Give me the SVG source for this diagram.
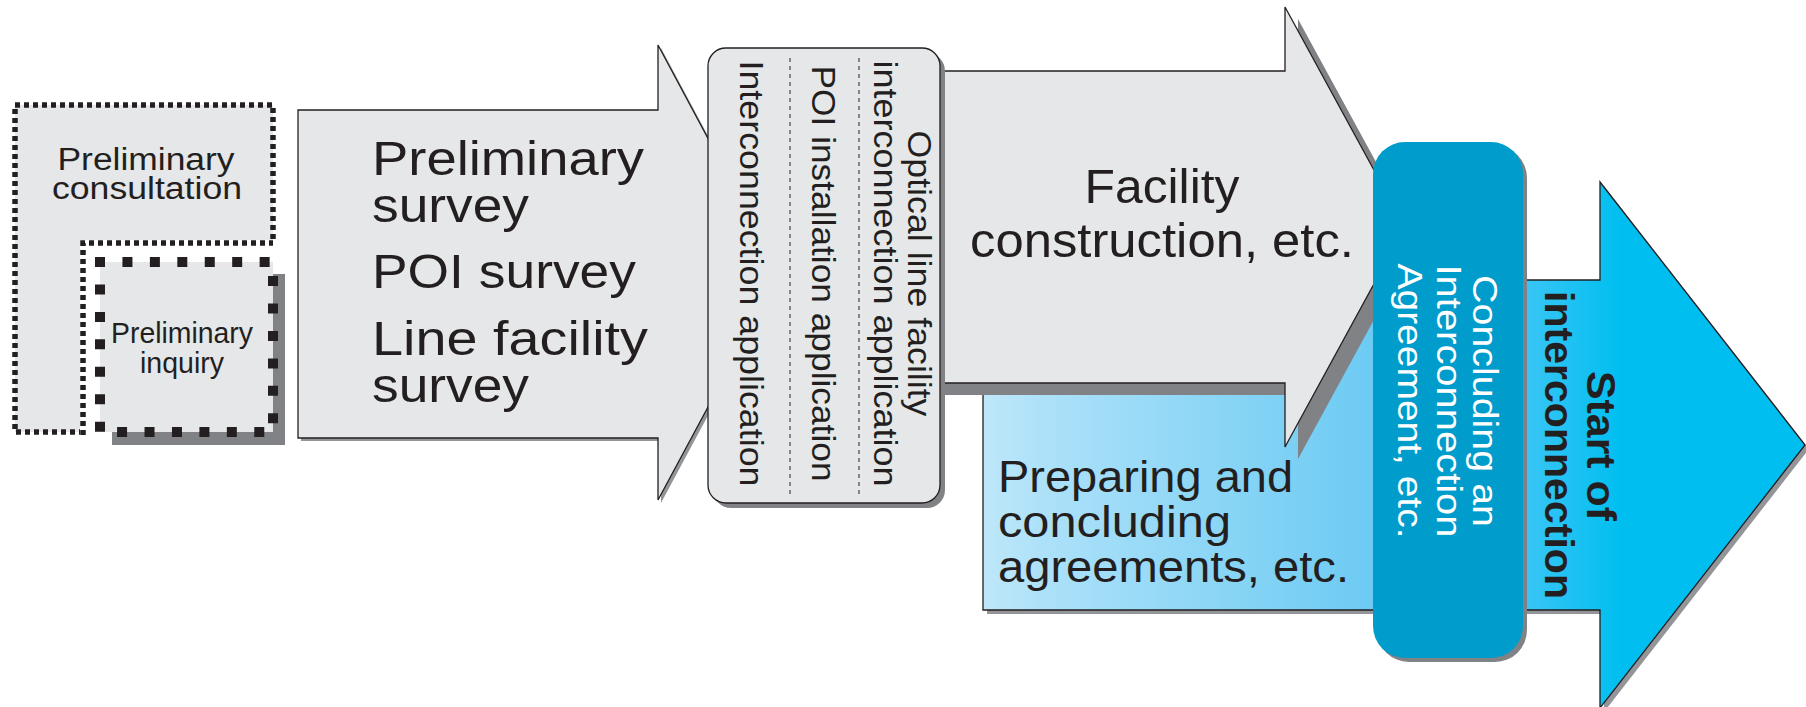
<svg xmlns="http://www.w3.org/2000/svg" xmlns:xlink="http://www.w3.org/1999/xlink" width="1806" height="707" viewBox="0 0 1806 707">
<style>
.t{font-family:"Liberation Sans",Arial,sans-serif;fill:#231f20}
.w{fill:#ffffff}
.b{font-weight:bold}
.sh{fill:#808285;stroke:none}
.shl{fill:#939598;stroke:none}
.gr{fill:#e6e7e8;stroke:#231f20;stroke-width:1.3}
.fine{stroke:#231f20;stroke-width:5.5;stroke-dasharray:5 4;fill:none}
.dl{stroke:#231f20;stroke-width:1;stroke-dasharray:4 4;fill:none}
</style>
<defs>
<linearGradient id="blueGrad" gradientUnits="userSpaceOnUse" x1="983" y1="0" x2="1620" y2="0">
<stop offset="0" stop-color="#bfe7f9"/>
<stop offset="0.1" stop-color="#ace1f9"/>
<stop offset="0.6" stop-color="#6ecbf3"/>
<stop offset="0.85" stop-color="#3ac5f5"/>
<stop offset="1" stop-color="#00bff0"/>
</linearGradient>
<path id="arrow1" d="M298,110 H658 V45 L780,273 L658,500 V438 H298 Z"/>
<path id="arrowFac" d="M925,71 H1285 V7 L1405,227 L1285,447 V383 H925 Z"/>
<path id="arrowStart" d="M983,280 H1600 V182 L1805,445 L1600,708 V610 H983 Z"/>
<rect id="appBox" x="708" y="48" width="232" height="455" rx="18"/>
<rect id="darkBox" x="1373" y="142" width="150" height="516" rx="32"/>
</defs>
<rect width="1806" height="707" fill="#ffffff"/>

<g id="preliminary-consultation">
<rect x="15" y="105" width="258" height="327" fill="#e6e7e8"/>
<rect x="15" y="105" width="258" height="327" class="fine"/>
<rect x="80" y="240" width="200" height="200" fill="#ffffff"/>
<path d="M83,435 V243 H273" class="fine"/>
<text class="t" font-size="31" text-anchor="middle"><tspan x="146" y="170" textLength="177" lengthAdjust="spacingAndGlyphs">Preliminary</tspan><tspan x="147" y="199" textLength="190" lengthAdjust="spacingAndGlyphs">consultation</tspan></text>
</g>

<g id="preliminary-inquiry">
<rect x="112" y="274" width="173" height="171" class="sh"/>
<rect x="100" y="262" width="173" height="170" fill="#e6e7e8"/>
<rect x="100" y="262" width="173" height="170" fill="none" stroke="#231f20" stroke-width="10" stroke-dasharray="10 17.44" stroke-dashoffset="5"/>
<text class="t" font-size="30" text-anchor="middle"><tspan x="182" y="343" textLength="142" lengthAdjust="spacingAndGlyphs">Preliminary</tspan><tspan x="182" y="373" textLength="84" lengthAdjust="spacingAndGlyphs">inquiry</tspan></text>
</g>

<g id="survey-arrow">
<use xlink:href="#arrow1" class="shl" transform="translate(3,3)"/>
<use xlink:href="#arrow1" class="gr"/>
<text class="t" font-size="49"><tspan x="372" y="175" textLength="272" lengthAdjust="spacingAndGlyphs">Preliminary</tspan><tspan x="372" y="222" textLength="157" lengthAdjust="spacingAndGlyphs">survey</tspan><tspan x="372" y="288" textLength="264" lengthAdjust="spacingAndGlyphs">POI survey</tspan><tspan x="372" y="355" textLength="276" lengthAdjust="spacingAndGlyphs">Line facility</tspan><tspan x="372" y="402" textLength="157" lengthAdjust="spacingAndGlyphs">survey</tspan></text>
</g>

<g id="start-arrow">
<use xlink:href="#arrowStart" class="shl" transform="translate(4,4)"/>
<use xlink:href="#arrowStart" fill="url(#blueGrad)" stroke="#231f20" stroke-width="1.3"/>
<text class="t" font-size="44"><tspan x="998" y="492" textLength="295" lengthAdjust="spacingAndGlyphs">Preparing and</tspan><tspan x="998" y="537" textLength="233" lengthAdjust="spacingAndGlyphs">concluding</tspan><tspan x="998" y="582" textLength="351" lengthAdjust="spacingAndGlyphs">agreements, etc.</tspan></text>
</g>

<g id="facility-arrow">
<use xlink:href="#arrowFac" class="sh" transform="translate(13,12)"/>
<use xlink:href="#arrowFac" class="gr"/>
<text class="t" font-size="49" text-anchor="middle"><tspan x="1162" y="203" textLength="155" lengthAdjust="spacingAndGlyphs">Facility</tspan><tspan x="1162" y="257" textLength="384" lengthAdjust="spacingAndGlyphs">construction, etc.</tspan></text>
</g>

<g id="applications">
<use xlink:href="#appBox" class="sh" transform="translate(5,5)"/>
<use xlink:href="#appBox" class="gr"/>
<line x1="790" y1="58" x2="790" y2="497" class="dl"/>
<line x1="859" y1="58" x2="859" y2="497" class="dl"/>
<text class="t" font-size="34" text-anchor="middle" transform="translate(740,273.5) rotate(90)" textLength="426" lengthAdjust="spacingAndGlyphs">Interconnection application</text>
<text class="t" font-size="34" text-anchor="middle" transform="translate(812,273.5) rotate(90)" textLength="416" lengthAdjust="spacingAndGlyphs">POI installation application</text>
<text class="t" font-size="34" text-anchor="middle" transform="translate(874,273.5) rotate(90)" textLength="426" lengthAdjust="spacingAndGlyphs">interconnection application</text>
<text class="t" font-size="34" text-anchor="middle" transform="translate(908,273.5) rotate(90)" textLength="286" lengthAdjust="spacingAndGlyphs">Optical line facility</text>
</g>

<g id="agreement">
<use xlink:href="#darkBox" class="sh" transform="translate(4,4)"/>
<use xlink:href="#darkBox" fill="#009ccb"/>
<text class="t w" font-size="35" text-anchor="middle" transform="translate(1473,401) rotate(90)" textLength="252" lengthAdjust="spacingAndGlyphs">Concluding an</text>
<text class="t w" font-size="35" text-anchor="middle" transform="translate(1437,401) rotate(90)" textLength="273" lengthAdjust="spacingAndGlyphs">Interconnection</text>
<text class="t w" font-size="35" text-anchor="middle" transform="translate(1398,401) rotate(90)" textLength="275" lengthAdjust="spacingAndGlyphs">Agreement, etc.</text>
</g>

<g id="start-label">
<text class="t b" font-size="41" text-anchor="middle" transform="translate(1587,446) rotate(90)" textLength="150" lengthAdjust="spacingAndGlyphs">Start of</text>
<text class="t b" font-size="41" text-anchor="middle" transform="translate(1545,445) rotate(90)" textLength="308" lengthAdjust="spacingAndGlyphs">interconnection</text>
</g>

<g id="connectors"></g>
</svg>
